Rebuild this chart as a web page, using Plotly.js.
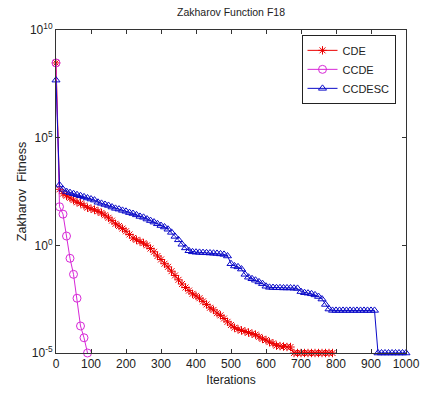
<!DOCTYPE html>
<html>
<head>
<meta charset="utf-8">
<script src="https://cdn.plot.ly/plotly-3.0.1.min.js"></script>
<style>
  html, body { margin: 0; padding: 0; background: #fff; }
  #chart { width: 441px; height: 398px; }
</style>
</head>
<body>
<div id="chart"></div>
<script>
// Iteration grid (sampled every 10 iterations)
const iterations = [
  0, 10, 20, 30, 40, 50, 60, 70, 80, 90,
  100, 110, 120, 130, 140, 150, 160, 170, 180, 190,
  200, 210, 220, 230, 240, 250, 260, 270, 280, 290,
  300, 310, 320, 330, 340, 350, 360, 370, 380, 390,
  400, 410, 420, 430, 440, 450, 460, 470, 480, 490,
  500, 510, 520, 530, 540, 550, 560, 570, 580, 590,
  600, 610, 620, 630, 640, 650, 660, 670, 680, 690,
  700, 710, 720, 730, 740, 750, 760, 770, 780, 790,
  800, 810, 820, 830, 840, 850, 860, 870, 880, 890,
  900, 910, 920, 930, 940, 950, 960, 970, 980, 990,
  1000
];

// Best fitness per algorithm
const cde = [
  2.95e8, 4.0e2, 2.5e2, 2.0e2, 1.6e2, 1.26e2, 1.0e2, 8.9e1, 7.1e1, 5.6e1,
  5.0e1, 4.5e1, 3.8e1, 3.2e1, 2.5e1, 1.9e1, 1.4e1, 1.0e1, 7.9, 6.0,
  4.5, 3.2, 2.2, 1.8, 1.5, 1.26, 1.0, 0.71, 0.5, 0.32,
  0.22, 0.14, 0.1, 0.063, 0.04, 0.025, 0.016, 0.011, 7.9e-3, 5.6e-3,
  4.5e-3, 3.5e-3, 2.5e-3, 1.8e-3, 1.26e-3, 1.0e-3, 7.1e-4, 5.6e-4, 4.0e-4, 2.8e-4,
  2.0e-4, 1.5e-4, 1.26e-4, 1.12e-4, 1.0e-4, 8.9e-5, 7.9e-5, 7.1e-5, 5.6e-5, 4.5e-5,
  4.0e-5, 3.2e-5, 2.8e-5, 2.2e-5, 2.1e-5, 2.0e-5, 1.9e-5, 1.9e-5, 1.0e-5, 1.0e-5,
  1.0e-5, 1.0e-5, 1.0e-5, 1.0e-5, 1.0e-5, 1.0e-5, 1.0e-5, 1.0e-5, 1.0e-5, 1.0e-5
];

const ccde = [
  2.95e8, 62, 28, 2.7, 0.25, 0.045, 3.5e-3, 1.8e-4, 5.1e-5, 1.0e-5
];

const ccdesc = [
  4.7e7, 630, 400, 316, 280, 250, 224, 200, 178, 158,
  141, 126, 100, 89, 79, 71, 60, 52, 48, 42,
  38, 33, 30, 26, 22, 20, 16.6, 14.1, 12, 10,
  8.3, 7.1, 5.6, 4.0, 2.6, 1.8, 1.12, 0.76, 0.56, 0.5,
  0.48, 0.47, 0.46, 0.45, 0.44, 0.43, 0.42, 0.4, 0.38, 0.32,
  0.14, 0.11, 0.1, 0.079, 0.045, 0.033, 0.028, 0.024, 0.02, 0.0166,
  0.0126, 0.0112, 0.011, 0.0107, 0.0107, 0.0105, 0.0105, 0.0105, 0.0102, 0.01,
  0.0071, 0.0063, 0.006, 0.0056, 0.005, 0.0042, 0.0032, 0.0018, 0.0011, 9.5e-4,
  9.5e-4, 9.5e-4, 9.5e-4, 9.5e-4, 9.5e-4, 9.5e-4, 9.5e-4, 9.5e-4, 9.5e-4, 9.5e-4,
  9.5e-4, 9.5e-4, 1.0e-5, 1.0e-5, 1.0e-5, 1.0e-5, 1.0e-5, 1.0e-5, 1.0e-5, 1.0e-5,
  1.0e-5
];

const seriesNames = ['CDE', 'CCDE', 'CCDESC'];
const yTickVals = [1e-5, 1, 1e5, 1e10];
const yTickText = ['10<sup>-5</sup>', '10<sup>0</sup>', '10<sup>5</sup>', '10<sup>10</sup>'];
const xTickVals = [0, 100, 200, 300, 400, 500, 600, 700, 800, 900, 1000];

const font = 'Liberation Sans, Arial, sans-serif';

function series(name, values, color, symbol, size) {
  return {
    type: 'scatter',
    mode: 'lines+markers',
    name: name,
    x: iterations.slice(0, values.length),
    y: values,
    cliponaxis: false,
    line: { color: color, width: 1 },
    marker: { symbol: symbol, size: size, color: color, line: { color: color, width: 1 } }
  };
}

const traces = [
  series(seriesNames[0], cde, 'rgb(235,0,0)', 'asterisk-open', 7),
  series(seriesNames[1], ccde, 'rgb(215,40,215)', 'circle-open', 8),
  series(seriesNames[2], ccdesc, 'rgb(10,10,200)', 'triangle-up-open', 7)
];

const axisCommon = {
  showline: true,
  linecolor: '#333',
  linewidth: 1,
  mirror: 'ticks',
  ticks: 'inside',
  ticklen: 4,
  tickcolor: '#333',
  showgrid: false,
  zeroline: false,
  tickfont: { family: font, size: 12, color: '#222' }
};

const layout = {
  width: 441,
  height: 398,
  margin: { l: 56, r: 35, t: 30, b: 45 },
  paper_bgcolor: '#fff',
  plot_bgcolor: '#fff',
  showlegend: true,
  title: {
    text: 'Zakharov Function F18',
    font: { family: font, size: 10.5, color: '#222' },
    x: 0.5238, xanchor: 'center',
    y: 0.97, yanchor: 'middle'
  },
  xaxis: Object.assign({}, axisCommon, {
    range: [0, 1000],
    tickvals: xTickVals,
    title: { text: 'Iterations', font: { family: font, size: 12, color: '#222' }, standoff: 5 }
  }),
  yaxis: Object.assign({}, axisCommon, {
    type: 'log',
    range: [-5, 10],
    tickvals: yTickVals,
    ticktext: yTickText,
    title: { text: 'Zakharov  Fitness', font: { family: font, size: 12.5, color: '#222' }, standoff: 0 }
  }),
  legend: {
    x: 0.97, xanchor: 'right',
    y: 0.985, yanchor: 'top',
    bgcolor: '#fff',
    bordercolor: '#222',
    borderwidth: 1,
    itemwidth: 30,
    tracegroupgap: 0,
    font: { family: font, size: 11, color: '#222' }
  }
};

Plotly.newPlot('chart', traces, layout, { displayModeBar: false, staticPlot: true });
</script>
</body>
</html>
